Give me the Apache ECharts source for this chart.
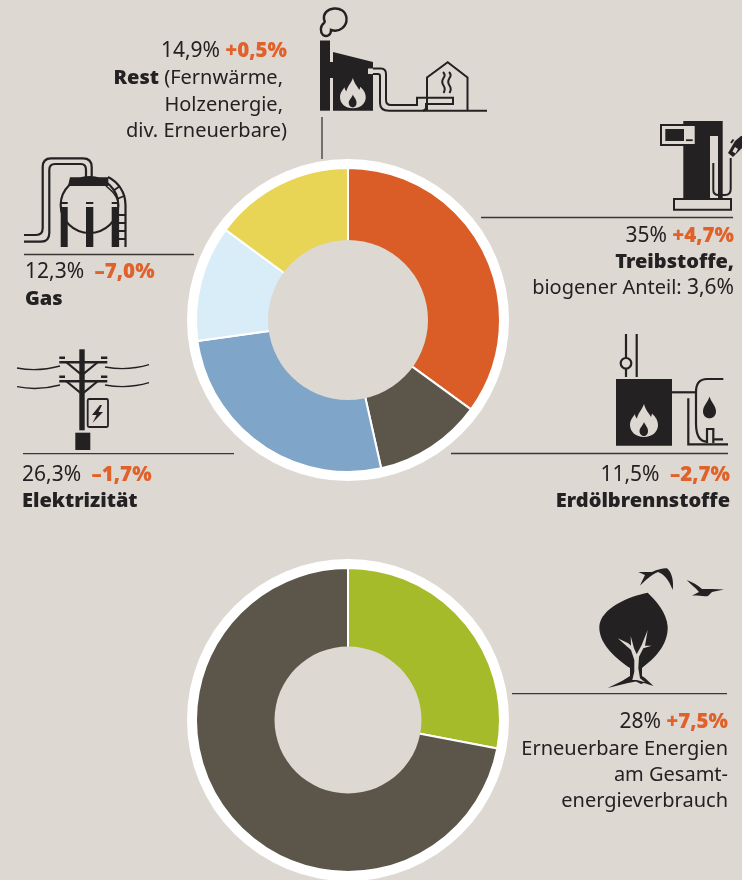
<!DOCTYPE html>
<html>
<head>
<meta charset="utf-8">
<style>
	html, body { margin: 0; padding: 0; background: #ddd8d2; }
	#chart { width: 742px; height: 880px; }
</style>
<script src="https://cdn.jsdelivr.net/npm/echarts@6/dist/echarts.min.js"></script>
</head>
<body>
<div id="chart"></div>
<script>
	// Daten
	const energyNames = ['Treibstoffe', 'Erdölbrennstoffe', 'Elektrizität', 'Gas', 'Rest'];
	const energyValues = [35, 11.5, 26.3, 12.3, 14.9];
	const energyColors = ['#da5c26', '#5b5649', '#7fa5c9', '#d8edf8', '#e8d555'];
	const renewableNames = ['Erneuerbare Energien', 'Übrige'];
	const renewableValues = [28, 72];
	const renewableColors = ['#a5bb29', '#5b5649'];

	const bg = '#ddd8d2';
	const ink = '#242123';
	const font = '"Noto Sans", sans-serif';

	// ein Ring: weisse Scheibe, farbige Segmente, Loch in Hintergrundfarbe
	function donut(cy, names, values, colors, hole) {
		const center = [348, cy];
		const base = { type: 'pie', center, silent: true, animation: false, label: { show: false }, labelLine: { show: false } };
		return [
			{ ...base, radius: [0, 161], data: [{ value: 1, itemStyle: { color: '#fff' } }] },
			{
				...base,
				radius: [hole - 4, 152],
				startAngle: 90,
				itemStyle: { borderColor: '#fff', borderWidth: 2 },
				data: values.map((v, i) => ({ name: names[i], value: v, itemStyle: { color: colors[i] } }))
			},
			{ ...base, radius: [0, hole], data: [{ value: 1, itemStyle: { color: bg } }] }
		];
	}

	function text(x, y, align, str) {
		return {
			type: 'text', x, y: y + 1,
			style: {
				text: str, align, verticalAlign: 'middle', fontFamily: font, fontSize: 20, fill: ink,
				rich: {
					n: { fontFamily: font, fontSize: 20, fill: ink },
					p: { fontFamily: font, fontSize: 21, fill: ink },
					b: { fontFamily: font, fontSize: 20, fontWeight: 900, fill: ink },
					o: { fontFamily: font, fontSize: 20.5, fontWeight: 900, fill: '#e0622a' }
				}
			}
		};
	}

	const line = (x1, y1, x2, y2) => ({ type: 'line', shape: { x1, y1, x2, y2 }, style: { stroke: '#3a3734', lineWidth: 1.3 } });
	const solid = (d, fill) => ({ type: 'path', shape: { pathData: d }, style: { fill: fill || ink } });
	const stroke = (d, w) => ({ type: 'path', shape: { pathData: d }, style: { fill: 'none', stroke: ink, lineWidth: w || 2 } });
	const box = (x, y, w, h, fill) => ({ type: 'rect', shape: { x, y, width: w, height: h }, style: { fill: fill || ink } });

	function flame(x, y, s) {
		const outer = 'M14 0C16 7 19 9 21 13C21.5 11.5 22 10.5 22 9.5C26 13 28 17 28 21C28 28 22 33 14 33C6 33 0 28 0 21C0 16 3 13 5 10C5 12 6 13.5 7 14.5C8 9 12 6 14 0Z';
		const inner = 'M14 18C15 21 18 23 18 27C18 30.5 16 32 14 32C12 32 9.5 30.5 9.5 27C9.5 24 13 21.5 14 18Z';
		return [
			{ ...solid(outer, bg), x, y, scaleX: s, scaleY: s },
			{ ...solid(inner, ink), x, y, scaleX: s, scaleY: s }
		];
	}

	const factoryIcon = [
		stroke('M331 30C340 33 347 26 346.5 18.5C346 11 340 8 334 8.5C327 9 323 14 324 19.5C325 21 325 22 324 23C320 26 320 32 323 35C327 37.5 331 35 331 30Z', 2.4),
		box(320, 40.5, 10, 70.2),
		box(329, 62, 5, 16),
		solid('M333 52L373 62V68.5H368V74H373V110.7H333Z'),
		...flame(340, 78, 0.92),
		stroke('M373 68.5H381Q386 68.5 386 74V100Q386 105 391 105H417V97.7H453V104H426V107Q426 110.7 422 110.7H389Q380 110.7 380 103V76Q380 74 378 74H373'),
		stroke('M427 110.7V77.5L447.7 62.3L467.5 77.5V110.7M423 110.7H487'),
		stroke('M443 72Q446 75 443.5 78Q441 82 443.5 85.5Q446 89 443.5 93M449 72Q452 75 449.5 78Q447 82 449.5 85.5Q452 89 449.5 93')
	];

	const gasIcon = [
		stroke('M24 235H36Q42.7 235 42.7 228V167Q42.7 158.3 51 158.3H83Q91.7 158.3 91.7 167V178', 2.2),
		stroke('M24 241.7H41Q49.3 241.7 49.3 233V170Q49.3 164 55 164H81Q86 164 86 170V178', 2.2),
		stroke('M60.7 205A28.8 28 0 1 1 118.3 205A28.8 28 0 1 1 60.7 205', 2.2),
		solid('M70 177.3H108.3V186H68Z'),
		box(60.7, 207, 7, 40), box(86, 207, 7.3, 40), box(111.7, 207, 6.8, 40),
		box(60.7, 202, 7, 2), box(86, 202, 7.3, 2), box(111.7, 202, 6.8, 2),
		stroke('M108 177C118 182 125.5 192 125.5 205V247', 2.2),
		stroke('M106 186C112 191 118 196 118.3 205V247', 1.6),
		stroke('M118 215H125M118 223H125M118 231H125M118 239H125M117 199L124 196M113 191L120 186', 1.8)
	];

	const powerIcon = [
		box(79.3, 349.3, 5.4, 81), box(75.3, 432.7, 15, 17.3),
		box(59.3, 361, 48, 2.6), box(59.3, 380, 48, 2.6),
		box(59.3, 356.5, 5.7, 2.5), box(101, 356.5, 6.3, 2.5), box(59.3, 375.5, 5.7, 2.5), box(101, 375.5, 6.3, 2.5),
		stroke('M66 362L82 375L98 362M66 381L82 394L98 381', 2.2),
		stroke('M17 368Q38 372 60 366M105 367Q128 371 149 364.7M17 386.7Q38 391 60 385M105 385Q128 389 149 382.7', 1.3),
		{ type: 'rect', shape: { x: 87.7, y: 399, width: 20.3, height: 28, r: 1.5 }, style: { fill: bg, stroke: ink, lineWidth: 1.8 } },
		solid('M100 405L92 415H96.5L92.5 423L103 412H98.5L102 405Z')
	];

	const oilIcon = [
		stroke('M626 334V358M626 369V377M636.7 334V377', 2.2),
		stroke('M631.3 363.3A5.3 5.3 0 1 1 620.7 363.3A5.3 5.3 0 1 1 631.3 363.3', 2.2),
		box(616, 379, 56, 66.7),
		...flame(630, 404, 1),
		stroke('M672 392.3H695', 2.2),
		stroke('M723.3 379H707Q696 379 696 392V423Q696 441.7 707 441.7', 2.2),
		stroke('M688.3 398.3V444.3H728', 2.2),
		stroke('M707 443V429H713.3V443M713 439.3H723', 2.2),
		solid('M709.5 396.5C711 402 716 406 716 411.5C716 415.5 713 418.3 709.5 418.3C706 418.3 703 415.5 703 411.5C703 406 708 402 709.5 396.5Z')
	];

	const pumpIcon = [
		box(683.3, 121, 39.4, 77.3),
		box(710, 136, 8, 62.3, bg),
		{ type: 'rect', shape: { x: 661, y: 125, width: 34.7, height: 20 }, style: { fill: bg, stroke: ink, lineWidth: 2 } },
		box(665.3, 129, 18.7, 12), box(686, 139.3, 6.7, 1.8),
		{ type: 'rect', shape: { x: 674, y: 199, width: 57, height: 10.7 }, style: { fill: bg, stroke: ink, lineWidth: 2 } },
		stroke('M713.3 163V190Q713.3 195 718.7 195H725Q730.7 195 730.7 189V158'),
		solid('M728 153L735 141L741 136L742 136V148L733 157Z'),
		solid('M732.5 151.5L735 147L738 149L735.5 153.5Z', bg),
		stroke('M731 143L733.5 139.5', 2)
	];

	const treeIcon = [
		solid('M647.7 592.7C630 596 600 608 599.3 627C599 645 618 660 630 668V676L622 681L607.7 688L628 683L636 681.5L641 684L644 683L653.5 686L645 678L642 676V668C655 658 668 645 667.7 627C667 612 655 600 647.7 592.7Z'),
		solid('M632.3 680L634.3 671.7V660L631 650L617.7 638.3L628.3 643.3L631 645.7L630.7 636L634 648.3L636.7 654.3L641.7 645L647.7 630L645 645.7L651.7 645.7L643.3 648.3L639 656.7L638.3 668.3L640 678.3L645 682.3L636.7 680Z', bg),
		solid('M638.3 572L652 572C658 569 664 568 667 568.3C672 572 674 582 672.7 590C669 580 664 574 658 572C652 574 646 580 640 585.5L645 575Z'),
		solid('M686.7 580C692 582 698 585 702 589L712 589L724 589.5L712 592L708 596C703 597 697 595 691.7 595.7L699 592C695 587 690 584 686.7 580Z')
	];

	const captions = [
		text(287, 50, 'right', '{p|14,9%} {o|+0,5%}'),
		text(283, 77, 'right', '{b|Rest} {n|(Fernwärme,}'),
		text(283, 104, 'right', '{n|Holzenergie,}'),
		text(287, 130, 'right', '{n|div. Erneuerbare)}'),
		text(25, 271, 'left', '{p|12,3%}  {o|–7,0%}'),
		text(25, 298, 'left', '{b|Gas}'),
		text(734, 235, 'right', '{p|35%} {o|+4,7%}'),
		text(734, 261, 'right', '{b|Treibstoffe,}'),
		text(734, 287, 'right', '{n|biogener Anteil:} {p|3,6%}'),
		text(22, 474, 'left', '{p|26,3%}  {o|–1,7%}'),
		text(22, 500, 'left', '{b|Elektrizität}'),
		text(730, 474, 'right', '{p|11,5%}  {o|–2,7%}'),
		text(730, 500, 'right', '{b|Erdölbrennstoffe}'),
		text(728, 721, 'right', '{p|28%} {o|+7,5%}'),
		text(728, 748, 'right', '{n|Erneuerbare Energien}'),
		text(728, 774, 'right', '{n|am Gesamt-}'),
		text(728, 800, 'right', '{n|energieverbrauch}')
	];

	const leaders = [
		line(322, 117, 322, 159),
		line(24, 254.5, 194, 254.5),
		line(481, 217.5, 733, 217.5),
		line(23, 453.7, 234, 453.7),
		line(451, 453.5, 728, 453.5),
		line(512, 693.7, 727, 693.7)
	];

	const icons = [...factoryIcon, ...gasIcon, ...powerIcon, ...oilIcon, ...pumpIcon, ...treeIcon];

	const chart = echarts.init(document.getElementById('chart'));
	chart.setOption({
		backgroundColor: bg,
		animation: false,
		series: [
			...donut(320, energyNames, energyValues, energyColors, 80),
			...donut(720, renewableNames, renewableValues, renewableColors, 73.5),
			{
				// Piktogramme
				type: 'custom',
				coordinateSystem: 'none',
				silent: true,
				animation: false,
				data: [0],
				renderItem: () => ({ type: 'group', children: icons })
			}
		],
		graphic: { elements: [...leaders, ...captions] }
	});
</script>
</body>
</html>
